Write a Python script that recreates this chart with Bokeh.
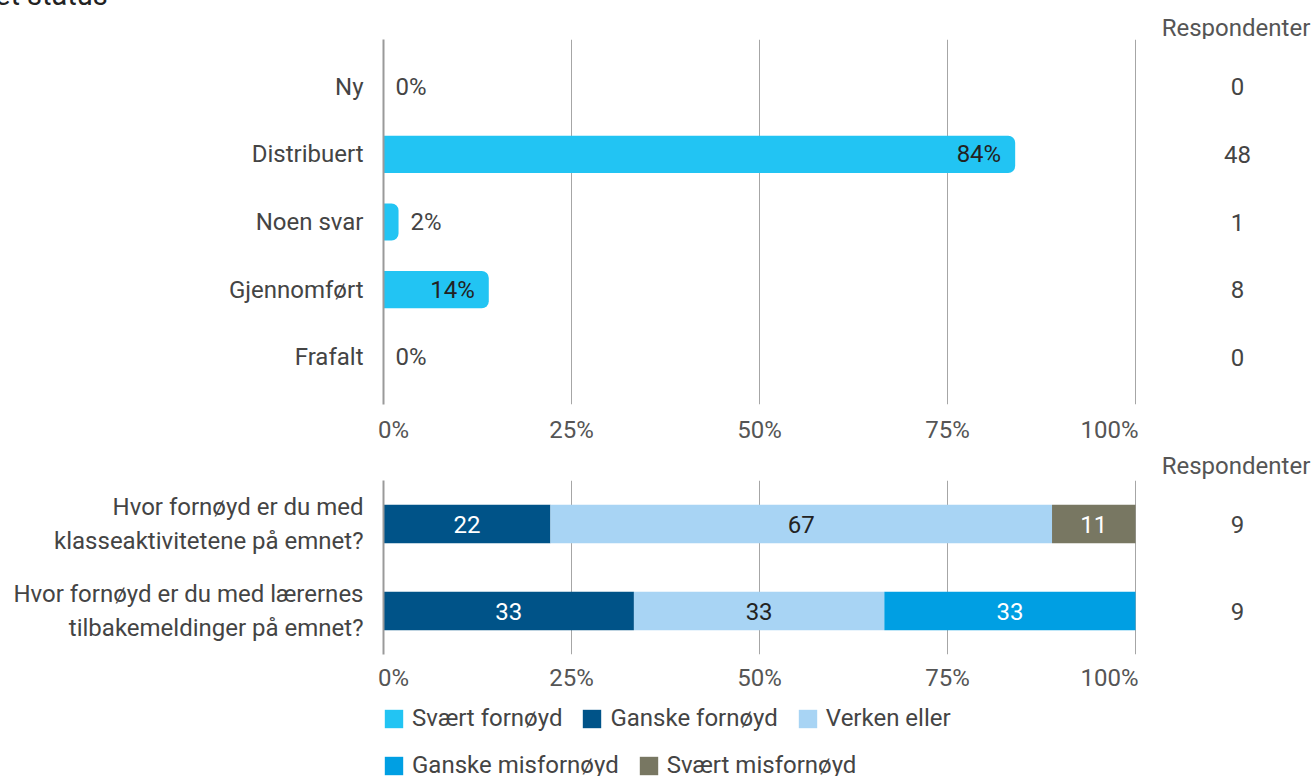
from bokeh.plotting import figure
from bokeh.models import (ColumnDataSource, FactorRange, Range1d, FixedTicker,
                          Legend, LegendItem, GlobalInlineStyleSheet, Div)
from bokeh.layouts import column
from bokeh.embed import file_html
from bokeh.resources import INLINE
from bokeh.core.properties import value

# ---------------- data ----------------
status_categories = ["Ny", "Distribuert", "Noen svar", "Gjennomført", "Frafalt"]
status_percent = [0, 84, 2, 14, 0]
status_respondents = [0, 48, 1, 8, 0]

questions = ["Hvor fornøyd er du med\nklasseaktivitetene på emnet?",
             "Hvor fornøyd er du med lærernes\ntilbakemeldinger på emnet?"]
answer_levels = ["Svært fornøyd", "Ganske fornøyd", "Verken eller",
                 "Ganske misfornøyd", "Svært misfornøyd"]
svaert_fornoyd = [0, 0]
ganske_fornoyd = [22.2, 33.3]
verken_eller = [66.7, 33.3]
ganske_misfornoyd = [0, 33.4]
svaert_misfornoyd = [11.1, 0]
question_respondents = [9, 9]

x_ticks = [0, 25, 50, 75, 100]
header_text = "Respondenter"
title_fragment = "et status"

# ---------------- style / layout constants ----------------
FONT = "Roboto"
FS = "24px"
BAR_COLOR = "#22C4F3"
LEVEL_COLORS = ["#22C4F3", "#005388", "#A8D4F4", "#009FE3", "#787762"]
LEVEL_TEXT = ["#222222", "#ffffff", "#222222", "#ffffff", "#ffffff"]
GRID = "#a6a6a6"
LABEL_C = "#444444"
TICK_C = "#555555"

W = 1314
FRAME_L, FRAME_R = 383, 1135
PPU = (FRAME_R - FRAME_L) / 100.0          # pixels per percent
X_MAX = (W - FRAME_L) / PPU                # frame runs to the right edge
RESP_X = (1237 - FRAME_L) / PPU            # centre of "Respondenter" column
tick_pos = [round(t + (10 / PPU if t == x_ticks[0] else (-26 / PPU if t == x_ticks[-1] else 0)), 4)
            for t in x_ticks]
tick_overrides = {p: f"{t}%" for p, t in zip(tick_pos, x_ticks)}

H_S1, H_A, H_S2, H_B = 39, 409, 32, 214
H_C = 776 - H_S1 - H_A - H_S2 - H_B


def header_div(height, top, fragment=False):
    spans = ""
    if fragment:
        spans += ('<span style="position:absolute;left:-5px;top:-19px;font-size:29px;'
                  'line-height:29px;color:#222222;white-space:nowrap;">%s</span>' % title_fragment)
    spans += ('<span style="position:absolute;left:1136px;width:200px;top:%dpx;text-align:center;'
              'font-size:24px;line-height:24px;color:%s;white-space:nowrap;">%s</span>'
              % (top, TICK_C, header_text))
    html = ('<div style="position:relative;width:%dpx;height:%dpx;overflow:hidden;'
            'font-family:Roboto;">%s</div>' % (W, height, spans))
    return Div(text=html, width=W, height=height, margin=(0, 0, 0, 0),
               styles={"overflow": "hidden"})


def style_common(p, standoff_y):
    p.outline_line_color = None
    p.ygrid.grid_line_color = None
    p.xgrid.ticker = FixedTicker(ticks=x_ticks)
    p.xgrid.grid_line_color = GRID
    p.xgrid.grid_line_width = 1
    xa = p.xaxis[0]
    xa.ticker = FixedTicker(ticks=tick_pos)
    xa.major_label_overrides = tick_overrides
    xa.axis_line_color = None
    xa.major_tick_line_color = None
    xa.minor_tick_line_color = None
    xa.major_tick_out = 0
    xa.major_tick_in = 0
    xa.major_label_standoff = standoff_y
    xa.major_label_text_font = FONT
    xa.major_label_text_font_size = FS
    xa.major_label_text_color = TICK_C
    ya = p.yaxis[0]
    ya.axis_line_color = "#9a9a9a"
    ya.axis_line_width = 2
    ya.major_tick_line_color = None
    ya.minor_tick_line_color = None
    ya.major_tick_out = 0
    ya.major_tick_in = 0
    ya.major_label_standoff = 20
    ya.major_label_text_font = FONT
    ya.major_label_text_font_size = FS
    ya.major_label_text_color = LABEL_C


# ---------------- header 1 ----------------
s1 = header_div(H_S1, 16, fragment=True)

# ---------------- figure A : status ----------------
pa = figure(width=W, height=H_A,
            y_range=FactorRange(*reversed(status_categories), range_padding=0.2,
                                range_padding_units="absolute"),
            x_range=Range1d(0, X_MAX),
            output_backend="svg", toolbar_location=None,
            min_border_left=FRAME_L, min_border_right=0,
            min_border_top=0, min_border_bottom=44)
style_common(pa, 11)

inside = [v >= 10 for v in status_percent]
src_a = ColumnDataSource(dict(
    cat=status_categories,
    pct=status_percent,
    label=[f"{v}%" for v in status_percent],
    align=["right" if i else "left" for i in inside],
    xoff=[-14 if i else 12 for i in inside],
    tcol=["#222222" if i else "#444444" for i in inside],
    resp=[str(v) for v in status_respondents],
    rx=[RESP_X] * len(status_categories),
))
pa.hbar(y="cat", left=0, right="pct", height=0.55, source=src_a,
        fill_color=BAR_COLOR, line_color=None, border_radius=(0, 7, 7, 0))
pa.text(x="pct", y="cat", text="label", source=src_a, x_offset="xoff",
        text_align="align", text_baseline="middle", text_color="tcol",
        text_font=value(FONT), text_font_size=FS)
pa.text(x="rx", y="cat", text="resp", source=src_a, text_align="center",
        text_baseline="middle", text_color=LABEL_C,
        text_font=value(FONT), text_font_size=FS)

# ---------------- header 2 ----------------
s2 = header_div(H_S2, 6)

# ---------------- figure B : satisfaction ----------------
fb_frame_h = 174
pb = figure(width=W, height=H_B,
            y_range=FactorRange(*reversed(questions), range_padding=0),
            x_range=Range1d(0, X_MAX),
            output_backend="svg", toolbar_location=None,
            min_border_left=FRAME_L, min_border_right=0,
            min_border_top=0, min_border_bottom=H_B - fb_frame_h)
style_common(pb, 9)
pb.yaxis[0].major_label_text_line_height = 1.2

level_values = [svaert_fornoyd, ganske_fornoyd, verken_eller, ganske_misfornoyd, svaert_misfornoyd]
data_b = dict(q=questions)
for lvl, vals in zip(answer_levels, level_values):
    data_b[lvl] = vals
src_b = ColumnDataSource(data_b)
pb.hbar_stack(answer_levels, y="q", height=0.44, color=LEVEL_COLORS,
              line_color=None, source=src_b)

seg_x, seg_y, seg_t, seg_c = [], [], [], []
for i, q in enumerate(questions):
    left = 0
    for vals, tc in zip(level_values, LEVEL_TEXT):
        v = vals[i]
        if v > 0:
            seg_x.append(left + v / 2)
            seg_y.append(q)
            seg_t.append(str(int(round(v))))
            seg_c.append(tc)
        left += v
pb.text(x=seg_x, y=seg_y, text=seg_t, text_color=seg_c, text_align="center",
        text_baseline="middle", text_font=value(FONT), text_font_size=FS)
pb.text(x=[RESP_X] * len(questions), y=questions, text=[str(v) for v in question_respondents],
        text_align="center", text_baseline="middle", text_color=LABEL_C,
        text_font=value(FONT), text_font_size=FS)

# ---------------- legend strip ----------------
pc = figure(width=W, height=H_C, x_range=Range1d(0, X_MAX),
            y_range=FactorRange(*reversed(questions)),
            output_backend="svg", toolbar_location=None,
            min_border_left=FRAME_L, min_border_right=0, min_border_top=0, min_border_bottom=0,
            x_axis_location=None, y_axis_location=None)
pc.grid.visible = False
pc.outline_line_color = None
legend_rends = pc.hbar_stack(answer_levels, y="q", height=0.44, color=LEVEL_COLORS,
                             line_color=None, source=src_b)
for r in legend_rends:
    r.visible = False

items = [LegendItem(label=lvl, renderers=[r]) for lvl, r in zip(answer_levels, legend_rends)]
leg_kw = dict(orientation="horizontal", glyph_width=23, glyph_height=23,
              label_standoff=7, spacing=18, padding=0, margin=0,
              label_text_font=FONT, label_text_font_size=FS, label_text_color=LABEL_C,
              border_line_color=None, background_fill_alpha=0, label_height=23,
              inactive_fill_alpha=0)
leg1 = Legend(items=items[:3], location=(-1, 44), **leg_kw)
leg2 = Legend(items=items[3:], location=(-1, -3), **leg_kw)
pc.add_layout(leg1, "center")
pc.add_layout(leg2, "center")

layout = column(s1, pa, s2, pb, pc, spacing=0,
                stylesheets=[GlobalInlineStyleSheet(css="body{margin:0;overflow:hidden;}")])

with open("out.html", "w") as f:
    f.write(file_html(layout, INLINE))
